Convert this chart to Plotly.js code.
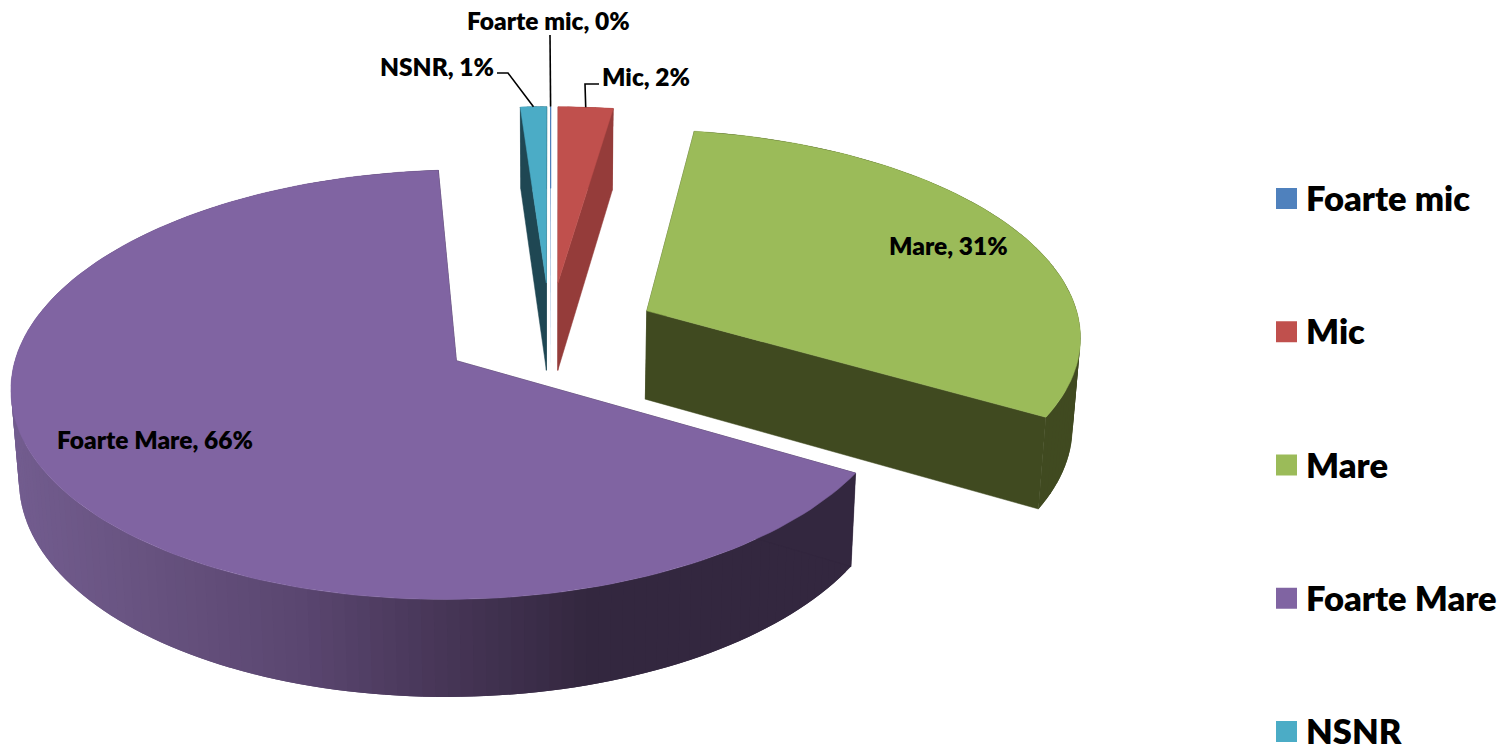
<!DOCTYPE html>
<html>
<head>
<meta charset="utf-8">
<script src="https://cdn.plot.ly/plotly-3.0.1.min.js"></script>
<style>html,body{margin:0;padding:0;background:#fff}#chart{width:1507px;height:745px}</style>
</head>
<body>
<div id="chart"></div>
<script>
// Data
const categories = ["Foarte mic", "Mic", "Mare", "Foarte Mare", "NSNR"];
const values = [0.04, 2.3, 31, 65.56, 1.1];
const topColors = ["#4F81BD", "#C0504D", "#9BBB59", "#8064A2", "#4BACC6"];
const sideColors = ["#4F81BD", "#953C3A", "#404A20", "#33273F", "#1F4753"];

// Projection of the tilted pie (perspective view from above)
const P = {cx: 550, cy: 333, f: 435, g: 206, k: 0.11, explode: 0.25, depth: 89, depthPersp: 60, shrink: 0.015};
function project(u, v, z) {
  const w = 1 / (1 - P.k * v);
  return [P.cx + P.f * u * w * (1 - P.shrink * z),
          P.cy + P.g * v * w + (P.depth + (w - 1) * P.depthPersp) * z];
}
const total = values.reduce((a, b) => a + b, 0);
const rad = d => d * Math.PI / 180;
let acc = 0;
const slices = values.map((val, i) => {
  const a0 = acc / total * 360; acc += val; const a1 = acc / total * 360;
  const mid = (a0 + a1) / 2;
  const ou = P.explode * Math.sin(rad(mid)), ov = -P.explode * Math.cos(rad(mid));
  return {i, a0, a1, mid, ou, ov};
});
const rim = (s, a, z) => project(s.ou + Math.sin(rad(a)), s.ov - Math.cos(rad(a)), z);
const tip = (s, z) => project(s.ou, s.ov, z);

function poly(pts, color, lw) {
  const c = pts.concat([pts[0]]);
  return {type: "scatter", mode: "lines", x: c.map(p => p[0]), y: c.map(p => p[1]),
          fill: "toself", fillcolor: color, line: {color: color, width: lw || 0},
          hoverinfo: "skip", showlegend: false};
}
function hex(c) { return [1, 3, 5].map(j => parseInt(c.substr(j, 2), 16)); }
function purpleShade(x) {
  const stops = [[0, "#735D90"], [150, "#67527F"], [300, "#5A4670"], [440, "#473657"], [590, "#33273F"], [1600, "#33273F"]];
  for (let j = 0; j < stops.length - 1; j++) {
    if (x <= stops[j + 1][0]) {
      const t = (x - stops[j][0]) / (stops[j + 1][0] - stops[j][0]);
      const a = hex(stops[j][1]), b = hex(stops[j + 1][1]);
      return "rgb(" + a.map((q, m) => Math.round(q + (b[m] - q) * t)).join(",") + ")";
    }
  }
}
const traces = [];
// Back to front: small slices, green, purple
[4, 0, 1, 2, 3].forEach(idx => {
  const s = slices[idx];
  const steps = Math.max(4, Math.ceil((s.a1 - s.a0) / 1.5));
  const angles = [];
  for (let j = 0; j <= steps; j++) angles.push(s.a0 + (s.a1 - s.a0) * j / steps);
  const edge = idx === 0 ? 0 : 0.5;
  // outer wall: each band runs under the next so no seam shows through
  for (let j = 0; j < steps; j++) {
    const a = rim(s, angles[j], 0), b = rim(s, angles[j + 1], 0);
    const far = Math.min(angles[j + 1] + 1.5, s.a1);
    const col = idx === 3 ? purpleShade((a[0] + b[0]) / 2) : sideColors[idx];
    traces.push(poly([a, b, rim(s, far, 0), rim(s, far, 1), rim(s, angles[j + 1], 1), rim(s, angles[j], 1)], col, 0));
  }
  // radial walls
  traces.push(poly([tip(s, 0), rim(s, s.a0, 0), rim(s, s.a0, 1), tip(s, 1)], sideColors[idx], edge));
  traces.push(poly([tip(s, 0), rim(s, s.a1, 0), rim(s, s.a1, 1), tip(s, 1)], sideColors[idx], edge));
  // top face
  traces.push(poly([tip(s, 0)].concat(angles.map(a => rim(s, a, 0))), topColors[idx], edge));
});

const labelFont = {family: "Lato, Carlito, sans-serif", size: 24.5, color: "#000", weight: 800};
const legendFont = {family: "Lato, Carlito, sans-serif", size: 34.5, color: "#000", weight: 800};
const labelText = i => categories[i] + ", " + Math.round(values[i]) + "%";

// Label placement [x, y] and leader elbow per category
const labelPos = [[548, 20], [646, 76], [948, 245], [155, 439], [437, 66]];
const leaders = {0: [[550, 35]], 1: [[585, 84], [599, 84]], 4: [[508, 73], [497, 73]]};
const annotations = categories.map((c, i) => ({
  x: labelPos[i][0], y: labelPos[i][1], xref: "x", yref: "y", text: labelText(i),
  showarrow: false, font: labelFont, xanchor: "center", yanchor: "middle"
}));
Object.keys(leaders).forEach(k => {
  const s = slices[+k];
  const pts = [rim(s, s.mid, 0)].concat(leaders[k]);
  traces.push({type: "scatter", mode: "lines", x: pts.map(p => p[0]), y: pts.map(p => p[1]),
               line: {color: "#000", width: 1.6}, hoverinfo: "skip", showlegend: false});
});

// Legend
const legendX = 1286.5, legendTextX = 1304, legendTop = 198.5, legendStep = 133.25;
traces.push({type: "scatter", mode: "markers",
  x: categories.map(() => legendX), y: categories.map((c, i) => legendTop + i * legendStep),
  marker: {symbol: "square", size: 21, color: topColors}, hoverinfo: "skip", showlegend: false});
categories.forEach((c, i) => annotations.push({
  x: legendTextX, y: legendTop - 1 + i * legendStep, xref: "x", yref: "y", text: c,
  showarrow: false, font: legendFont, xanchor: "left", yanchor: "middle"
}));

Plotly.newPlot("chart", traces, {
  width: 1507, height: 745, margin: {l: 0, r: 0, t: 0, b: 0},
  paper_bgcolor: "#fff", plot_bgcolor: "#fff", showlegend: false,
  xaxis: {range: [0, 1507], visible: false, fixedrange: true},
  yaxis: {range: [745, 0], visible: false, fixedrange: true},
  annotations: annotations
}, {displayModeBar: false, staticPlot: true});
</script>
</body>
</html>
